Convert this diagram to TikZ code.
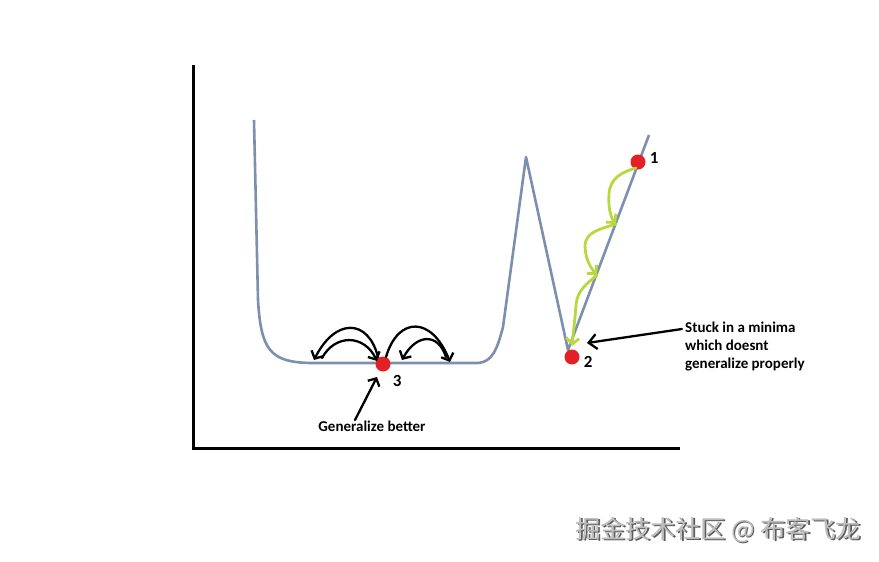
\documentclass[tikz,border=0pt]{standalone}
\usepackage{fontspec}
\setmainfont{Carlito}
\newfontfamily\cjkfont{Noto Sans CJK SC}
\usetikzlibrary{arrows.meta,positioning,calc}
\definecolor{LossSlate}{RGB}{125,143,175}
\definecolor{StepGreen}{RGB}{184,216,62}
\definecolor{DotRed}{RGB}{228,32,36}
\definecolor{MarkGray}{gray}{0.74}
\definecolor{MarkShade}{gray}{0.36}

\begin{document}
\begin{tikzpicture}[x=1pt,y=-1pt,>={Straight Barb[length=6pt,width=13pt]},
  font=\fontsize{15}{18}\selectfont\bfseries,
  dot/.style={circle,fill=DotRed,inner sep=0pt,minimum size=15pt},
  num/.style={inner sep=0pt,font=\fontsize{17}{17}\selectfont\bfseries},
  hop/.style={->,line width=2.3pt,line cap=round,line join=round},
  slide/.style={->,line width=2.8pt,draw=StepGreen,line cap=round,line join=round}]
  \useasboundingbox (0,0) rectangle (879,562);
  % axes
  \draw[line width=3pt] (193,65) -- (193,448) -- (680,448);
  % loss surface
  \draw[line width=2.6pt,draw=LossSlate,line join=round] (254,120) -- (258,300)
    .. controls (261,350) and (270,362) .. (310,363) -- (478,363)
    .. controls (492,362) and (497,350) .. (503,327) -- (526,157)
    -- (568,350) -- (649,135);
  % points
  \node[dot] (p1) at (638,162) {};
  \node[dot] (p2) at (572,357) {};
  \node[dot] (p3) at (383,364) {};
  \node[num,right=4pt of p1,yshift=4pt] (n1) {1};
  \node[num,right=4pt of p2,yshift=-5pt] (n2) {2};
  \node[num,right=2pt of p3,yshift=-17pt] (n3) {3};
  % steps down the narrow valley
  \coordinate (g0) at (636,168);
  \coordinate (g1) at (616,224);
  \coordinate (g2) at (597,275);
  \coordinate (g3) at (572,346);
  \draw[slide] (g0) .. controls (622,172) and (610,178) .. (609,194)
    .. controls (608,208) and (611,218) .. (g1);
  \draw[slide] (g1) .. controls (600,229) and (586,232) .. (585,245)
    .. controls (585,258) and (590,267) .. (g2);
  \draw[slide] (g2) .. controls (588,283) and (577,290) .. (576,305)
    .. controls (575,320) and (573,334) .. (g3);
  % hops in the wide valley
  \coordinate (l1) at (314,360);
  \coordinate (l2) at (322,358);
  \coordinate (r1) at (450,362);
  \coordinate (r2) at (446,357);
  \draw[hop] ($(p3)+(-5,-7)$) .. controls (368,318) and (335,318) .. (l1);
  \draw[hop] (l2) .. controls (335,334) and (364,334) .. ($(p3)+(-6,-3)$);
  \draw[hop] ($(p3)+(3,-7)$) .. controls (398,316) and (432,316) .. (r1);
  \draw[hop] (r2) .. controls (438,332) and (416,334) .. (402,360);
  % notes
  \node[anchor=north,inner sep=0pt] (gb) at (372,421) {Generalize better};
  \draw[->,line width=2.3pt,line cap=round] ([xshift=-17pt,yshift=1pt]gb.north)
    -- ($(p3)+(-6,13)$);
  \node[anchor=north west,align=left,inner sep=0pt] (stuck) at (685,322)
    {Stuck in a minima\\which doesnt\\generalize properly};
  \draw[->,line width=2.3pt,line cap=round,
    >={Straight Barb[length=8pt,width=15pt]}]
    ([xshift=-3pt,yshift=-7pt]stuck.north west) -- ($(p2)+(15,-14)$);
  % watermark
  \node[anchor=east,inner sep=0pt,text=MarkShade,font=\cjkfont\fontsize{25}{25}\selectfont]
    (wmshade) at (862.2,531.2) {掘金技术社区 @ 布客飞龙};
  \node[anchor=east,inner sep=0pt,text=MarkGray,font=\cjkfont\fontsize{25}{25}\selectfont]
    (wm) at (861,530) {掘金技术社区 @ 布客飞龙};
\end{tikzpicture}
\end{document}
